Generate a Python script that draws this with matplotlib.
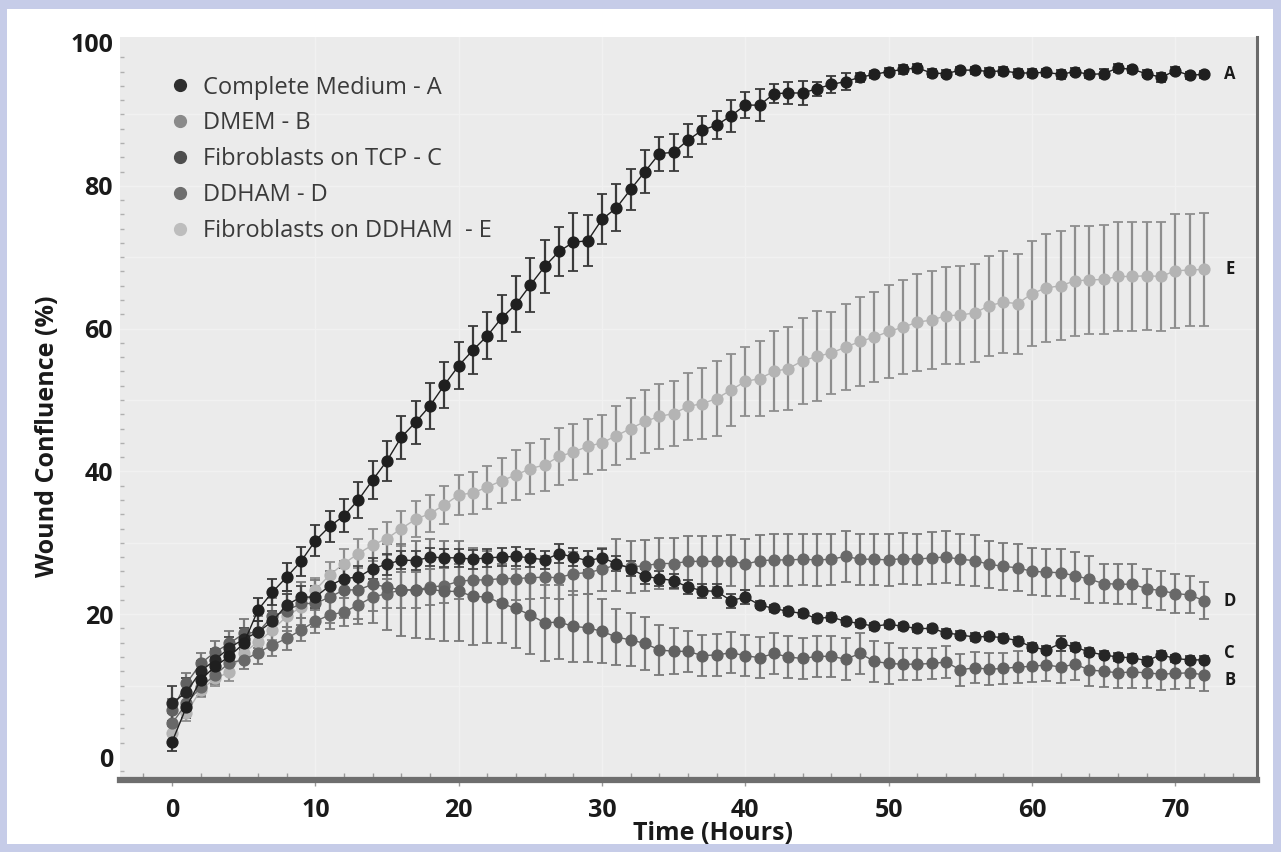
import numpy as np
import matplotlib
matplotlib.use('Agg')
import matplotlib.pyplot as plt
from matplotlib.lines import Line2D
from matplotlib.patches import Rectangle
from matplotlib.ticker import MultipleLocator

plt.rcParams['font.family'] = ['Open Sans', 'DejaVu Sans']

# time points (hours)
hours = np.arange(73)

# Complete Medium - A
conf_A = [2.1, 7.0, 10.8, 12.7, 14.1, 15.9, 20.6, 23.1, 25.2, 27.4,
          30.3, 32.3, 33.8, 36.0, 38.8, 41.5, 44.8, 46.9, 49.2, 52.1,
          54.8, 57.0, 59.0, 61.5, 63.4, 66.1, 68.7, 70.8, 72.1, 72.3,
          75.3, 76.9, 79.5, 82.0, 84.5, 84.7, 86.4, 87.8, 88.5, 89.8,
          91.3, 91.3, 92.9, 93.0, 93.0, 93.6, 94.2, 94.6, 95.2, 95.6,
          96.0, 96.3, 96.5, 95.8, 95.7, 96.2, 96.2, 96.0, 96.1, 95.8,
          95.8, 95.9, 95.6, 96.0, 95.6, 95.7, 96.5, 96.3, 95.7, 95.2,
          96.1, 95.5, 95.6]
err_A = [1.2, 1.5, 1.4, 1.3, 1.3, 1.3, 1.6, 1.8, 2.0, 2.0,
         2.2, 2.2, 2.3, 2.5, 2.6, 2.8, 3.0, 3.0, 3.2, 3.2,
         3.3, 3.3, 3.3, 3.2, 3.9, 3.8, 3.7, 3.4, 4.1, 3.6,
         3.5, 3.3, 2.9, 3.0, 2.4, 2.6, 2.3, 2.0, 2.0, 2.2,
         1.8, 2.2, 1.3, 1.5, 1.7, 1.0, 1.2, 1.2, 0.6, 0.5,
         0.5, 0.6, 0.5, 0.6, 0.5, 0.5, 0.5, 0.5, 0.6, 0.5,
         0.6, 0.5, 0.6, 0.5, 0.5, 0.6, 0.5, 0.5, 0.5, 0.6,
         0.5, 0.5, 0.5]

# DMEM - B
conf_B = [6.6, 10.3, 13.1, 14.7, 15.9, 17.3, 17.5, 19.7, 20.5, 21.5,
          21.5, 22.4, 23.4, 23.4, 24.2, 23.8, 23.4, 23.4, 23.5, 23.2,
          23.2, 22.5, 22.4, 21.5, 20.8, 19.9, 18.8, 18.9, 18.3, 18.1,
          17.6, 16.8, 16.4, 15.9, 15.0, 14.8, 14.8, 14.2, 14.3, 14.6,
          14.2, 13.9, 14.5, 14.0, 13.8, 14.1, 14.1, 13.7, 14.5, 13.4,
          13.1, 13.0, 13.0, 13.1, 13.3, 12.2, 12.5, 12.3, 12.4, 12.6,
          12.7, 12.9, 12.6, 13.0, 12.2, 12.0, 11.8, 11.9, 11.8, 11.6,
          11.7, 11.8, 11.5]
err_B = [1.5, 1.5, 1.5, 1.5, 1.8, 2.0, 2.2, 2.5, 2.8, 3.0,
         3.3, 3.6, 4.0, 4.8, 5.5, 6.0, 6.5, 6.8, 7.0, 7.0,
         7.0, 6.8, 6.5, 5.6, 5.6, 5.5, 5.3, 5.2, 5.0, 4.8,
         4.5, 3.9, 3.7, 3.7, 3.5, 3.2, 2.9, 2.9, 2.9, 2.9,
         2.9, 2.9, 2.9, 2.9, 2.9, 2.9, 2.9, 2.9, 2.9, 2.9,
         2.9, 2.2, 2.2, 2.2, 2.2, 2.2, 2.2, 2.2, 2.2, 2.2,
         2.2, 2.2, 2.2, 2.2, 2.2, 2.2, 2.2, 2.2, 2.2, 2.2,
         2.2, 2.2, 2.2]

# Fibroblasts on TCP - C
conf_C = [7.5, 9.1, 12.0, 13.6, 15.3, 16.5, 17.5, 19.0, 21.3, 22.4,
          22.4, 24.0, 25.0, 25.2, 26.4, 27.0, 27.6, 27.5, 28.0, 27.9,
          27.9, 27.7, 27.9, 28.0, 28.1, 27.9, 27.6, 28.5, 28.0, 27.5,
          27.9, 27.1, 26.4, 25.3, 25.0, 24.7, 23.8, 23.3, 23.2, 21.9,
          22.4, 21.3, 20.8, 20.4, 20.1, 19.4, 19.6, 19.0, 18.7, 18.3,
          18.6, 18.3, 18.0, 18.0, 17.4, 17.1, 16.8, 16.9, 16.7, 16.3,
          15.4, 15.0, 15.9, 15.4, 14.7, 14.3, 14.0, 13.9, 13.5, 14.3,
          13.8, 13.6, 13.6]
err_C = [2.5, 2.0, 1.5, 1.5, 1.5, 1.5, 1.5, 1.5, 1.5, 1.5,
         1.5, 1.5, 1.5, 1.5, 1.5, 1.5, 1.3, 1.3, 1.3, 1.3,
         1.3, 1.3, 1.3, 1.3, 1.3, 1.3, 1.3, 1.3, 1.3, 1.3,
         1.3, 1.0, 1.0, 1.0, 1.0, 1.0, 1.0, 1.0, 1.0, 1.0,
         1.0, 0.5, 0.5, 0.5, 0.5, 0.5, 0.5, 0.5, 0.5, 0.5,
         0.5, 0.5, 0.5, 0.5, 0.5, 0.5, 0.5, 0.5, 0.5, 0.5,
         0.5, 0.5, 1.0, 0.5, 0.5, 0.5, 0.5, 0.5, 0.5, 0.5,
         0.5, 0.5, 0.5]

# DDHAM - D
conf_D = [4.7, 7.5, 9.8, 11.5, 13.2, 13.6, 14.6, 15.7, 16.6, 17.8,
          19.0, 19.9, 20.3, 21.3, 22.4, 22.9, 23.4, 23.4, 23.8, 24.0,
          24.6, 24.8, 24.8, 25.0, 25.0, 25.1, 25.2, 25.1, 25.7, 25.8,
          26.3, 26.9, 26.6, 26.8, 27.1, 27.1, 27.4, 27.4, 27.4, 27.5,
          27.0, 27.5, 27.6, 27.6, 27.7, 27.6, 27.7, 28.1, 27.7, 27.7,
          27.6, 27.8, 27.7, 27.9, 28.0, 27.7, 27.5, 27.0, 26.7, 26.5,
          26.0, 25.9, 25.8, 25.4, 24.9, 24.3, 24.2, 24.2, 23.6, 23.3,
          22.9, 22.7, 21.9]
err_D = [1.5, 1.3, 1.3, 1.3, 1.3, 1.3, 1.6, 1.6, 1.6, 1.6,
         1.6, 2.0, 2.0, 2.0, 2.0, 2.0, 2.5, 2.5, 2.5, 2.5,
         2.5, 2.5, 2.5, 3.0, 3.0, 3.0, 3.0, 3.0, 3.0, 3.0,
         3.0, 3.6, 3.6, 3.6, 3.6, 3.6, 3.6, 3.6, 3.6, 3.6,
         3.6, 3.6, 3.6, 3.6, 3.6, 3.6, 3.6, 3.6, 3.6, 3.6,
         3.6, 3.6, 3.6, 3.6, 3.6, 3.6, 3.6, 3.3, 3.3, 3.3,
         3.3, 3.3, 3.3, 3.3, 3.3, 2.8, 2.8, 2.8, 2.8, 2.7,
         2.7, 2.6, 2.6]

# Fibroblasts on DDHAM - E
conf_E = [3.3, 6.1, 9.4, 11.0, 11.9, 14.6, 16.1, 17.8, 19.7, 21.0,
          23.4, 25.5, 27.1, 28.5, 29.7, 30.6, 32.0, 33.3, 34.1, 35.3,
          36.7, 37.0, 37.8, 38.7, 39.5, 40.4, 40.9, 42.1, 42.7, 43.5,
          44.0, 45.0, 46.0, 47.0, 47.7, 48.1, 49.1, 49.5, 50.2, 51.4,
          52.6, 53.0, 54.0, 54.4, 55.5, 56.1, 56.6, 57.4, 58.2, 58.8,
          59.6, 60.2, 60.9, 61.2, 61.8, 61.9, 62.2, 63.2, 63.7, 63.5,
          64.9, 65.7, 66.0, 66.7, 66.8, 66.9, 67.3, 67.3, 67.4, 67.3,
          68.1, 68.2, 68.3]
err_E = [1.0, 1.0, 1.0, 1.0, 1.2, 1.2, 1.3, 1.4, 1.5, 1.6,
         1.7, 1.8, 2.0, 2.0, 2.2, 2.3, 2.4, 2.5, 2.6, 2.7,
         2.8, 2.9, 3.0, 3.15, 3.5, 3.6, 3.7, 4.0, 3.9, 3.9,
         3.85, 4.1, 4.3, 4.4, 4.5, 4.6, 4.7, 5.0, 5.25, 5.0,
         4.8, 5.2, 5.6, 5.8, 6.0, 6.3, 5.7, 6.0, 6.2, 6.3,
         6.5, 6.6, 6.8, 6.9, 6.8, 6.8, 6.9, 7.0, 7.1, 7.0,
         7.4, 7.6, 7.6, 7.7, 7.5, 7.6, 7.7, 7.6, 7.6, 7.7,
         7.95, 7.9, 7.9]

legend_labels = ['Complete Medium - A', 'DMEM - B', 'Fibroblasts on TCP - C',
                 'DDHAM - D', 'Fibroblasts on DDHAM  - E']
legend_colors = ['#2e2e2e', '#8a8a8a', '#4e4e4e', '#6e6e6e', '#bdbdbd']

W, H = 1281, 852
fig = plt.figure(figsize=(W / 100, H / 100), dpi=100)
fig.patch.set_facecolor('#c6cce8')
fig.patches.append(Rectangle((7 / W, 8 / H), (1273 - 7) / W, (843 - 8) / H,
                             transform=fig.transFigure, facecolor='white',
                             edgecolor='none', zorder=-5))

ax = fig.add_axes([120 / W, 72 / H, 1137 / W, 743 / H])
ax.set_facecolor('#ebebeb')
ax.set_xlim(-3.63, 75.7)
ax.set_ylim(-3.22, 100.84)

# faint grid
for v in range(10, 100, 10):
    ax.axhline(v, color='#f1f1f1', lw=1.0, zorder=0)
for v in range(10, 80, 10):
    ax.axvline(v, color='#f1f1f1', lw=1.0, zorder=0)

# series: values, errors, marker colour, errorbar colour
series = [
    (conf_E, err_E, '#b4b4b4', '#8e8e8e'),
    (conf_D, err_D, '#686868', '#7a7a7a'),
    (conf_B, err_B, '#616161', '#7a7a7a'),
    (conf_C, err_C, '#262626', '#444444'),
    (conf_A, err_A, '#1f1f1f', '#3a3a3a'),
]
for vals, errs, mcol, ecol in series:
    ax.errorbar(hours, vals, yerr=errs, fmt='o-', color=mcol, ms=7.8, lw=1.0,
                mec=mcol, ecolor=ecol, elinewidth=1.6, capsize=3.5,
                capthick=1.3)

# end labels
end_labels = [('A', conf_A[-1]), ('E', conf_E[-1]), ('D', conf_D[-1]),
              ('C', conf_C[-1] + 0.9), ('B', conf_B[-1] - 0.7)]
for lab, yv in end_labels:
    ax.text(73.8, yv, lab, fontsize=12, fontweight='bold', color='#1a1a1a',
            ha='center', va='center')

# spines
for s in ['top', 'left']:
    ax.spines[s].set_visible(False)
ax.spines['right'].set_color('#6a6a6a')
ax.spines['right'].set_linewidth(2.2)
ax.spines['bottom'].set_color('#6e6e6e')
ax.spines['bottom'].set_linewidth(4.5)

ax.set_xticks(range(0, 71, 10))
ax.set_yticks(range(0, 101, 20))
ax.xaxis.set_minor_locator(MultipleLocator(2))
ax.yaxis.set_minor_locator(MultipleLocator(2))
ax.tick_params(axis='x', which='major', length=4, width=1, color='#999999',
               direction='out', pad=9, labelsize=18)
ax.tick_params(axis='x', which='minor', length=5, width=1, color='#9a9a9a',
               direction='in')
ax.tick_params(axis='y', which='major', length=0, pad=5, labelsize=18)
ax.tick_params(axis='y', which='minor', length=3, width=1, color='#b0b0b0',
               direction='in')
for t in ax.get_xticklabels() + ax.get_yticklabels():
    t.set_fontweight('bold')
    t.set_color('#1a1a1a')

ax.set_xlabel('Time (Hours)', fontsize=18, fontweight='bold', color='#1a1a1a')
ax.xaxis.set_label_coords(0.5216, -0.055)
fig.text(48 / W, 1 - 436 / H, 'Wound Confluence (%)', fontsize=18,
         fontweight='bold', color='#1a1a1a', rotation=90,
         ha='center', va='center')

handles = [Line2D([], [], ls='none', marker='o', ms=8.5, color=c, mec=c)
           for c in legend_colors]
ax.legend(handles, legend_labels, loc='upper left',
          bbox_to_anchor=(0.0444, 0.948), frameon=False, fontsize=17,
          labelcolor='#3a3a3a', handlelength=0.8, handletextpad=0.58,
          labelspacing=0.5, borderpad=0, borderaxespad=0)

fig.savefig('out.png', dpi=100, facecolor=fig.get_facecolor())
